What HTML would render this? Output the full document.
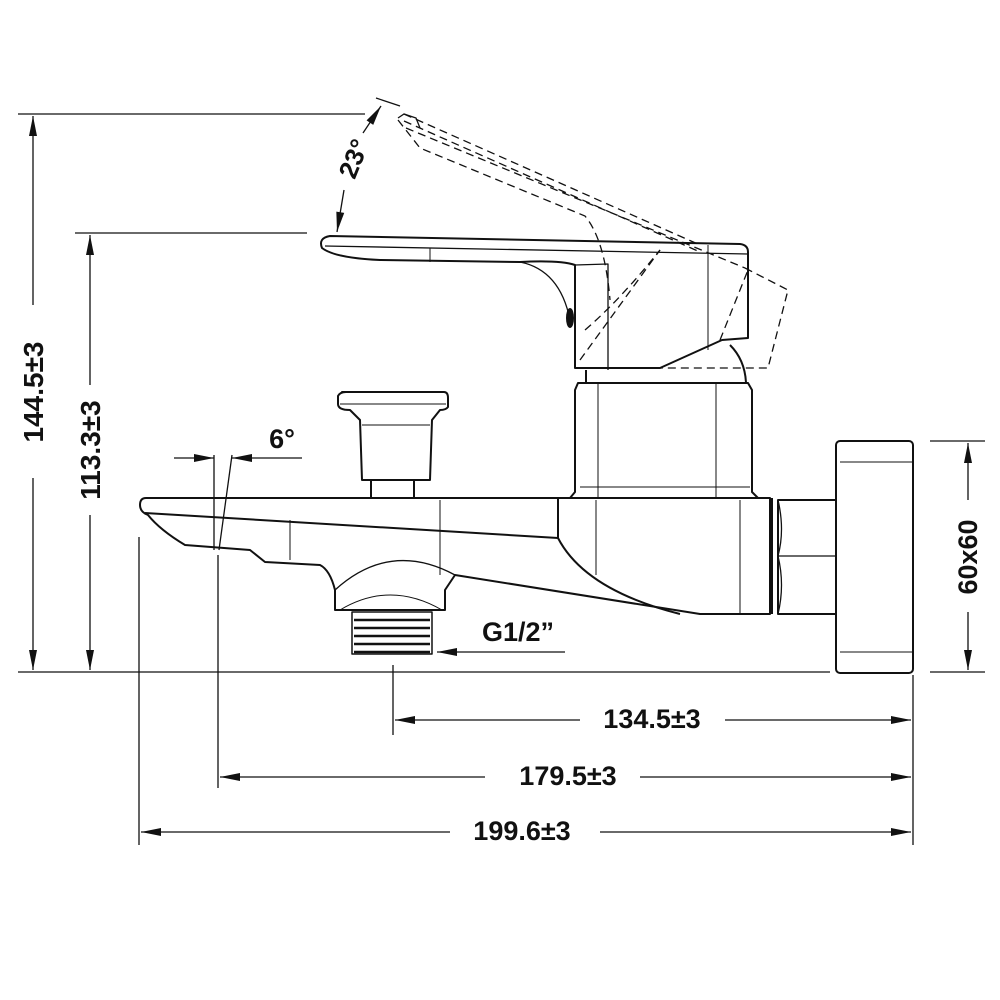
<!DOCTYPE html>
<html><head><meta charset="utf-8"><style>
html,body{margin:0;padding:0;background:#fff;}
svg{display:block;}
text{font-family:"Liberation Sans",Arial,sans-serif;font-weight:bold;fill:#111;}
</style></head><body>
<svg width="1000" height="1000" viewBox="0 0 1000 1000" xmlns="http://www.w3.org/2000/svg">
<defs>
<marker id="b" viewBox="0 0 20 10" refX="20" refY="5" markerWidth="22" markerHeight="10" markerUnits="userSpaceOnUse" orient="auto-start-reverse">
<path d="M0,1 L20,5 L0,9 z" fill="#111"/></marker>
</defs>
<g stroke="#111" stroke-width="1.3" fill="none">
<line x1="18" y1="114" x2="365" y2="114"/>
<line x1="75" y1="233" x2="307" y2="233"/>
<line x1="18" y1="672" x2="830" y2="672"/>
<line x1="930" y1="441" x2="985" y2="441"/>
<line x1="930" y1="672" x2="985" y2="672"/>
<line x1="393" y1="665" x2="393" y2="735"/>
<line x1="218" y1="555" x2="218" y2="788"/>
<line x1="139" y1="537" x2="139" y2="845"/>
<line x1="913" y1="675" x2="913" y2="845"/>
<line x1="33" y1="116" x2="33" y2="305" marker-start="url(#b)"/>
<line x1="33" y1="478" x2="33" y2="670" marker-end="url(#b)"/>
<line x1="90" y1="235" x2="90" y2="385" marker-start="url(#b)"/>
<line x1="90" y1="515" x2="90" y2="670" marker-end="url(#b)"/>
<line x1="968" y1="443" x2="968" y2="500" marker-start="url(#b)"/>
<line x1="968" y1="612" x2="968" y2="670" marker-end="url(#b)"/>
<line x1="395" y1="720" x2="580" y2="720" marker-start="url(#b)"/>
<line x1="725" y1="720" x2="911" y2="720" marker-end="url(#b)"/>
<line x1="220" y1="777" x2="485" y2="777" marker-start="url(#b)"/>
<line x1="640" y1="777" x2="911" y2="777" marker-end="url(#b)"/>
<line x1="141" y1="832" x2="450" y2="832" marker-start="url(#b)"/>
<line x1="600" y1="832" x2="911" y2="832" marker-end="url(#b)"/>
<line x1="174" y1="458" x2="214" y2="458" marker-end="url(#b)"/>
<line x1="302" y1="458" x2="232" y2="458" marker-end="url(#b)"/>
<line x1="214" y1="455" x2="214" y2="550"/>
<line x1="232" y1="455" x2="219" y2="550"/>
<line x1="565" y1="652" x2="437" y2="652" marker-end="url(#b)"/>
<path d="M337,232 L344,190" marker-start="url(#b)"/>
<path d="M363,133 L381,106" marker-end="url(#b)"/>
<line x1="376" y1="98" x2="400" y2="106"/>
</g>
<g stroke="#111" stroke-width="2" fill="none" stroke-linejoin="round">
<path d="M146,498 L770,498 L770,614 L700,614 Q640,605 455,575 L445,590 L445,610 L335,610 L335,590 Q330,570 320,565 L265,562 L250,550 L185,545 Q160,530 148,515 Q140,512 140,505 Q140,498 146,498 Z"/>
<path d="M145,513 L558,538"/>
<path d="M558,498 L558,538 Q585,590 680,614"/>
<path d="M335,590 Q390,540 455,575" stroke-width="1.3"/>
<path d="M340,610 Q390,580 442,610" stroke-width="1"/>
<line x1="440" y1="500" x2="440" y2="575" stroke-width="1"/>
<line x1="740" y1="500" x2="740" y2="614" stroke-width="1"/>
<line x1="596" y1="500" x2="596" y2="575" stroke-width="1"/>
<line x1="290" y1="520" x2="290" y2="560" stroke-width="1"/>
<rect x="352" y="612" width="80" height="42" stroke-width="1.5"/>
<g stroke-width="2.5"><line x1="354" y1="620" x2="430" y2="620"/><line x1="354" y1="628" x2="430" y2="628"/><line x1="354" y1="636" x2="430" y2="636"/><line x1="354" y1="644" x2="430" y2="644"/><line x1="354" y1="652" x2="430" y2="652"/></g>
<path d="M342,392 L444,392 Q448,392 448,398 L448,407 Q446,410 440,410 L432,420 L430,480 L362,480 L360,420 L350,410 Q338,410 338,404 L338,396 Q340,392 346,392 Z"/>
<line x1="340" y1="404" x2="446" y2="404" stroke-width="1"/>
<line x1="362" y1="425" x2="430" y2="425" stroke-width="1"/>
<path d="M371,480 L371,498 M414,480 L414,498"/>
<path d="M578,383 L748,383 L752,390 L752,492 L758,498 L570,498 L575,492 L575,390 Z"/>
<line x1="580" y1="487" x2="750" y2="487" stroke-width="1"/>
<line x1="598" y1="383" x2="598" y2="498" stroke-width="1"/>
<line x1="716" y1="383" x2="716" y2="498" stroke-width="1"/>
<line x1="586" y1="370" x2="586" y2="383"/>
<path d="M730,345 Q745,360 746,383"/>
<path d="M772,498 L772,614 M778,500 L836,500 L836,614 L778,614 Z"/>
<path d="M778,500 Q785,530 778,556 Q785,585 778,614" stroke-width="1.3"/>
<line x1="778" y1="556" x2="836" y2="556" stroke-width="1.3"/>
<rect x="836" y="441" width="77" height="232" rx="4"/>
<line x1="840" y1="462" x2="912" y2="462" stroke-width="1"/>
<line x1="840" y1="652" x2="912" y2="652" stroke-width="1"/>
<path d="M330,236 L740,244 Q748,245 748,252 L748,338 L722,340 L660,368 L575,368 L575,265 Q560,260 520,262 L380,260 Q335,258 322,248 Q318,238 330,236 Z"/>
<line x1="325" y1="246" x2="748" y2="254" stroke-width="1.3"/>
<path d="M575,265 L608,264 L608,370" stroke-width="1.3"/>
<path d="M520,262 Q560,270 570,320" stroke-width="1.3"/>
<ellipse cx="570" cy="318" rx="3" ry="9" fill="#111"/>
<line x1="708" y1="245" x2="708" y2="350" stroke-width="1"/>
<line x1="430" y1="248" x2="430" y2="262" stroke-width="1"/>
</g>
<g stroke="#111" stroke-width="1.3" fill="none" stroke-dasharray="8,5">
<path d="M404,114 L700,245 M404,121 L700,252 M406,128 L745,268"/>
<path d="M398,120 L420,148 L585,216 Q605,240 610,300"/>
<path d="M745,268 L788,290 L768,368 L660,368"/>
<path d="M720,340 L748,270"/>
<path d="M580,360 L660,250"/>
<path d="M585,330 Q620,300 660,250"/>
</g>
<path d="M398,118 L404,114 L416,118 L420,128" stroke="#111" stroke-width="1.3" fill="none"/>
<text x="652" y="728" font-size="27" text-anchor="middle">134.5±3</text>
<text x="568" y="785" font-size="27" text-anchor="middle">179.5±3</text>
<text x="522" y="840" font-size="27" text-anchor="middle">199.6±3</text>
<text x="518" y="641" font-size="27" text-anchor="middle">G1/2”</text>
<text x="282" y="448" font-size="27" text-anchor="middle">6°</text>
<text transform="translate(43,392) rotate(-90)" font-size="28" text-anchor="middle">144.5±3</text>
<text transform="translate(100,450) rotate(-90)" font-size="28" text-anchor="middle">113.3±3</text>
<text transform="translate(977,557) rotate(-90)" font-size="27" text-anchor="middle">60x60</text>
<text transform="translate(362,162) rotate(-68)" font-size="26" text-anchor="middle">23°</text>
</svg>
</body></html>
